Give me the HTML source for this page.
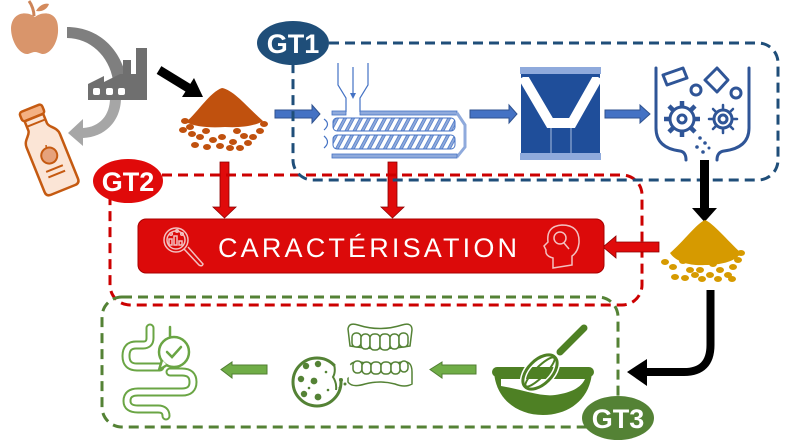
<!DOCTYPE html>
<html><head><meta charset="utf-8"><style>
html,body{margin:0;padding:0;background:#fff;}
svg{display:block;}
</style></head><body>
<svg width="787" height="444" viewBox="0 0 787 444" xmlns="http://www.w3.org/2000/svg">
<defs>
<pattern id="scr" x="0" y="0" width="8" height="20" patternUnits="userSpaceOnUse" patternTransform="skewX(-28)">
<rect x="0" y="0" width="8" height="20" fill="#8faadc"/>
<rect x="1.5" y="-1" width="5" height="22" fill="#fff" stroke="#4472c4" stroke-width="0.8"/>
</pattern>
</defs>
<rect width="787" height="444" fill="#fff"/>

<!-- Apple -->
<path d="M35,17 C28,11 12,11 11,28 C11,42 20,55 28,54 C31,53 33,52 35,52 C37,52 39,53 42,54 C50,55 59,42 58,28 C58,11 42,11 35,17 Z" fill="#d9956b"/>
<path d="M34,16 C34,11 32,5 29,1" stroke="#cd8458" stroke-width="3" fill="none"/>
<path d="M36,11 C40,4 46,3 49,4 C47,10 41,12 36,11 Z" fill="#d48a5c"/>

<!-- Gray arrows -->
<path d="M67,27 C95,27 120,45 127,80 L113,80 C109,56 90,38 67,38 Z" fill="#7f7f7f"/>
<path d="M121,98 C121,120 106,137 83,138 L83,128 C100,127 110,115 110,98 Z" fill="#a6a6a6"/>
<polygon points="83,119 68,133 83,146" fill="#a6a6a6"/>

<!-- Factory -->
<path d="M88,100 L88,84 L104,76 L104,82 L120,74 L123,74 L123,60 L131,60 L131,74 L136,74 L136,48 L147,48 L147,100 Z" fill="#6f6f6f"/>
<rect x="93" y="88" width="7" height="7" rx="2" fill="#fff"/>
<rect x="106" y="88" width="7" height="7" rx="2" fill="#fff"/>
<rect x="118" y="88" width="7" height="7" rx="2" fill="#fff"/>

<!-- Bottle -->
<g transform="translate(47,150) rotate(-22)">
<rect x="-12" y="-45" width="24" height="10" rx="3" fill="#f4b183" stroke="#c55a11" stroke-width="2.5"/>
<path d="M-10,-35 L-10,-25 C-10,-20 -18,-18 -18,-10 L-18,38 Q-18,43 -13,43 L13,43 Q18,43 18,38 L18,-10 C18,-18 10,-20 10,-25 L10,-35 Z" fill="#fbe5d6" stroke="#c55a11" stroke-width="2.5"/>
<line x1="-10" y1="-29" x2="10" y2="-29" stroke="#c55a11" stroke-width="2"/>
<circle cx="0" cy="6" r="8" fill="#e6a27c" stroke="#c55a11" stroke-width="2"/>
<path d="M0,-2 L1,-5" stroke="#c55a11" stroke-width="1.5"/>
<line x1="-9" y1="20" x2="9" y2="20" stroke="#c55a11" stroke-width="2"/>
<line x1="-9" y1="26" x2="9" y2="26" stroke="#c55a11" stroke-width="2"/>
</g>

<!-- Black arrow 1 -->
<line x1="159" y1="70" x2="190" y2="89" stroke="#000" stroke-width="9"/>
<polygon points="203,97 182,97 194,78" fill="#000"/>

<!-- Brown pile -->
<path d="M186,122 C198,112 210,92 222,88 C234,90 248,108 263,121 C255,126 240,128 225,127 C210,128 195,127 186,122 Z" fill="#c0510e"/>
<g fill="#c0510e">
<ellipse cx="185" cy="121" rx="4" ry="3"/><ellipse cx="183" cy="130" rx="4" ry="3"/><ellipse cx="192" cy="134" rx="4" ry="3"/>
<ellipse cx="200" cy="137" rx="4" ry="3"/><ellipse cx="195" cy="145" rx="4" ry="3"/><ellipse cx="207" cy="147" rx="4" ry="3"/>
<ellipse cx="213" cy="140" rx="4" ry="3"/><ellipse cx="222" cy="137" rx="4" ry="3"/><ellipse cx="220" cy="146" rx="4" ry="3"/>
<ellipse cx="233" cy="142" rx="4" ry="3"/><ellipse cx="230" cy="148" rx="4" ry="3"/><ellipse cx="248" cy="143" rx="4" ry="3"/>
<ellipse cx="253" cy="137" rx="4" ry="3"/><ellipse cx="260" cy="131" rx="4" ry="3"/><ellipse cx="264" cy="124" rx="4" ry="3"/>
<ellipse cx="240" cy="148" rx="4" ry="3"/><ellipse cx="244" cy="136" rx="4" ry="3"/><ellipse cx="206" cy="131" rx="4" ry="3"/>
<ellipse cx="190" cy="127" rx="4" ry="3"/><ellipse cx="237" cy="131" rx="4" ry="3"/>
</g>

<!-- Blue arrows -->
<g fill="#4472c4" stroke="#2f528f" stroke-width="1">
<polygon points="275,110 312,110 312,105 320,114 312,123 312,118 275,118"/>
<polygon points="470,110 509,110 509,105 517,114 509,123 509,118 470,118"/>
<polygon points="605,110 640,110 640,105 650,114 640,123 640,118 605,118"/>
</g>

<!-- Extruder -->
<g stroke="#4472c4" fill="none" stroke-width="1.2">
<path d="M338,63 V85 L346,98 V112"/>
<path d="M368,63 V85 L360,98 V112"/>
<line x1="353" y1="67" x2="353" y2="95"/>
</g>
<polygon points="350,93 356,93 353,99" fill="#4472c4"/>
<rect x="332" y="111" width="14" height="4" fill="#8faadc" stroke="#4472c4" stroke-width="0.8"/>
<rect x="360" y="111" width="97" height="4" fill="#8faadc" stroke="#4472c4" stroke-width="0.8"/>
<path d="M457,113 L465,125 L465,147 L457,157" stroke="#8faadc" stroke-width="3" fill="none"/>
<rect x="332" y="154" width="125" height="4" fill="#8faadc" stroke="#4472c4" stroke-width="0.8"/>
<rect x="333" y="118" width="122" height="13" rx="4" fill="url(#scr)" stroke="#4472c4" stroke-width="1"/>
<rect x="333" y="135" width="122" height="14" rx="4" fill="url(#scr)" stroke="#4472c4" stroke-width="1"/>
<path d="M324,119 Q331,124 324,130 M324,136 Q331,142 324,148" stroke="#4472c4" stroke-width="1.2" fill="none"/>

<!-- Mold -->
<rect x="520" y="67" width="81" height="7" fill="#8faadc"/>
<rect x="520" y="153" width="81" height="7" fill="#8faadc"/>
<rect x="521" y="74" width="79" height="79" fill="#1f4e9a"/>
<polyline points="523,77 550,123 572,123 598,77" fill="none" stroke="#fff" stroke-width="10"/>
<rect x="521" y="74" width="79" height="3" fill="#1f4e9a"/>
<line x1="551" y1="128" x2="551" y2="153" stroke="#a9bde0" stroke-width="1"/>
<line x1="571" y1="128" x2="571" y2="153" stroke="#a9bde0" stroke-width="1"/>

<!-- Mixer -->
<g stroke="#2f5597" stroke-width="3" fill="none" stroke-linecap="round">
<path d="M656,68 V128 Q656,148 680,151 Q686,152 686,160"/>
<path d="M749,68 V128 Q749,148 724,151 Q717,152 717,160"/>
<polygon points="663,75 683,68 687,78 667,85" stroke-linejoin="round"/>
<polygon points="705,80 717,68 728,80 717,92" stroke-linejoin="round"/>
<circle cx="696" cy="90" r="5"/>
<circle cx="736" cy="93" r="5"/>
<circle cx="682" cy="119" r="12"/>
<circle cx="682" cy="119" r="4"/>
<circle cx="723" cy="119" r="9"/>
<circle cx="723" cy="119" r="4"/>
</g>
<g stroke="#2f5597" stroke-width="4.5">
<line x1="682" y1="101" x2="682" y2="107"/><line x1="682" y1="131" x2="682" y2="137"/>
<line x1="664" y1="119" x2="670" y2="119"/><line x1="694" y1="119" x2="700" y2="119"/>
<line x1="669" y1="106" x2="673" y2="110"/><line x1="691" y1="128" x2="695" y2="132"/>
<line x1="695" y1="106" x2="691" y2="110"/><line x1="669" y1="132" x2="673" y2="128"/>
</g>
<g stroke="#2f5597" stroke-width="2.5" stroke-linecap="round">
<line x1="723" y1="105" x2="723" y2="109"/><line x1="723" y1="129" x2="723" y2="133"/>
<line x1="709" y1="119" x2="713" y2="119"/><line x1="733" y1="119" x2="737" y2="119"/>
<line x1="713" y1="109" x2="716" y2="112"/><line x1="730" y1="126" x2="733" y2="129"/>
<line x1="733" y1="109" x2="730" y2="112"/><line x1="713" y1="129" x2="716" y2="126"/>
</g>
<g fill="#2f5597">
<circle cx="700" cy="138" r="1.8"/><circle cx="705" cy="143" r="1.8"/><circle cx="697" cy="147" r="1.8"/>
<circle cx="703" cy="152" r="1.8"/><circle cx="709" cy="148" r="1.5"/>
</g>

<!-- Red down arrows -->
<g fill="#e00b0b" stroke="#8b0000" stroke-width="0.8">
<polygon points="220,162 229,162 229,207 236,207 224.5,218 213,207 220,207"/>
<polygon points="388,162 397,162 397,207 404,207 392.5,218 381,207 388,207"/>
</g>

<!-- Dashed boxes -->
<rect x="110" y="175" width="532" height="130" rx="20" fill="none" stroke="#cc0000" stroke-width="3" stroke-dasharray="10,6"/>
<rect x="293" y="43" width="485" height="137" rx="20" fill="none" stroke="#1f4e79" stroke-width="3" stroke-dasharray="10,6"/>
<rect x="102" y="297" width="516" height="130" rx="20" fill="none" stroke="#548235" stroke-width="3" stroke-dasharray="10,6"/>

<!-- Black down arrow -->
<rect x="700" y="160" width="9" height="50" fill="#000"/>
<polygon points="692,208 717,208 704.5,222" fill="#000"/>

<!-- Gold pile -->
<path d="M670,253 C683,242 697,223 705,220 C713,223 727,240 741,253 C735,262 720,265 705,265 C690,266 676,262 670,253 Z" fill="#d69a00"/>
<g fill="#d69a00">
<ellipse cx="665" cy="262" rx="4" ry="3"/><ellipse cx="673" cy="267" rx="4" ry="3"/><ellipse cx="675" cy="277" rx="4" ry="3"/>
<ellipse cx="685" cy="278" rx="4" ry="3"/><ellipse cx="690" cy="270" rx="4" ry="3"/><ellipse cx="700" cy="270" rx="4" ry="3"/>
<ellipse cx="695" cy="275" rx="4" ry="3"/><ellipse cx="710" cy="275" rx="4" ry="3"/><ellipse cx="720" cy="270" rx="4" ry="3"/>
<ellipse cx="728" cy="275" rx="4" ry="3"/><ellipse cx="733" cy="267" rx="4" ry="3"/><ellipse cx="738" cy="260" rx="4" ry="3"/>
<ellipse cx="741" cy="253" rx="4" ry="3"/><ellipse cx="732" cy="279" rx="4" ry="3"/><ellipse cx="702" cy="279" rx="4" ry="3"/>
<ellipse cx="713" cy="264" rx="4" ry="3"/><ellipse cx="683" cy="261" rx="4" ry="3"/><ellipse cx="718" cy="279" rx="4" ry="3"/>
</g>

<!-- Red left arrow -->
<polygon points="659,242 616,242 616,236 603,247 616,258 616,252 659,252" fill="#e00b0b" stroke="#8b0000" stroke-width="0.8"/>

<!-- Caracterisation box -->
<rect x="138" y="219" width="466" height="54" rx="8" fill="#dc0a0a" stroke="#a80000" stroke-width="1"/>
<text x="218" y="257" font-family="Liberation Sans, sans-serif" font-size="27" fill="#fff" textLength="299" lengthAdjust="spacing">CARACTÉRISATION</text>
<!-- magnifier icon -->
<g stroke="#f3c0c0" stroke-width="1.5" fill="none">
<circle cx="176" cy="240" r="12"/>
<circle cx="176" cy="240" r="9"/>
<path d="M184,249 L199,265 Q202,267 203,264 L188,247"/>
<rect x="169" y="239" width="3" height="6"/><rect x="174" y="236" width="3" height="9"/><rect x="179" y="241" width="3" height="4"/>
<circle cx="171" cy="234" r="1.3"/><circle cx="177" cy="231" r="1.3"/><circle cx="182" cy="234" r="1.3"/>
</g>
<!-- head icon -->
<g stroke="#f3c0c0" stroke-width="1.5" fill="none">
<path d="M553,268 L553,258 Q545,256 546,250 L544,246 L548,242 Q546,226 562,225 Q580,225 579,243 Q578,252 572,256 L572,265 Z"/>
<circle cx="560" cy="238" r="6"/>
<line x1="564" y1="243" x2="569" y2="249"/>
</g>

<!-- Black curved arrow -->
<path d="M710.5,290 L710.5,345 Q710.5,372 684,372 L645,372" fill="none" stroke="#000" stroke-width="8"/>
<polygon points="647,359 627,372 647,386" fill="#000"/>

<!-- Green arrows -->
<g fill="#70ad47" stroke="#507e32" stroke-width="1">
<polygon points="476,365 442,365 442,362 430,369.5 442,378 442,374 476,374"/>
<polygon points="267,365 232,365 232,362 221,369.5 232,378 232,374 267,374"/>
</g>

<!-- Whisk bowl -->
<path d="M494,372 L592,372 C590,400 568,415 543,415 C518,415 496,400 494,372 Z" fill="#4e8024"/>
<rect x="492" y="367" width="102" height="10" rx="5" fill="#4e8024"/>
<path d="M501,379 L585,379 C581,388 570,393 555,395 C540,397 520,389 501,386 Z" fill="#fff"/>
<line x1="584" y1="328" x2="560" y2="352" stroke="#4e8024" stroke-width="7" stroke-linecap="round"/>
<g transform="translate(540,372) rotate(45)">
<ellipse cx="0" cy="0" rx="12" ry="21" fill="none" stroke="#fff" stroke-width="6"/>
<ellipse cx="0" cy="0" rx="12" ry="21" fill="none" stroke="#4e8024" stroke-width="3"/>
<ellipse cx="0" cy="0" rx="5" ry="20" fill="none" stroke="#4e8024" stroke-width="2"/>
</g>

<!-- Teeth -->
<g stroke="#548235" stroke-width="1.5" fill="#fff">
<path d="M348,329 Q349,322 358,325 Q380,332 402,325 Q412,322 412,330 L410,346 Q380,351 350,346 Z"/>
<rect x="352" y="333" width="9" height="14" rx="4"/><rect x="361" y="334" width="9" height="15" rx="4"/>
<rect x="370" y="334" width="10" height="16" rx="4"/><rect x="380" y="334" width="10" height="16" rx="4"/>
<rect x="390" y="334" width="9" height="15" rx="4"/><rect x="399" y="333" width="9" height="14" rx="4"/>
<path d="M348,372 Q349,360 360,362 Q380,366 402,362 Q412,360 412,372 L412,384 Q405,388 395,384 Q380,380 365,384 Q352,388 348,382 Z"/>
<rect x="353" y="361" width="9" height="12" rx="4"/><rect x="362" y="362" width="9" height="12" rx="4"/>
<rect x="371" y="362" width="10" height="12" rx="4"/><rect x="381" y="362" width="10" height="12" rx="4"/>
<rect x="391" y="362" width="9" height="12" rx="4"/><rect x="400" y="361" width="8" height="11" rx="4"/>
</g>

<!-- Cookie -->
<circle cx="317" cy="382" r="24" fill="#fff" stroke="#548235" stroke-width="3"/>
<circle cx="343" cy="370" r="9" fill="#fff"/>
<path d="M334,364 Q336,372 333,377 Q337,383 336,390" fill="none" stroke="#548235" stroke-width="2"/>
<g fill="#548235">
<circle cx="306" cy="366" r="3.2"/><circle cx="318" cy="364" r="3.2"/><circle cx="301" cy="379" r="3.2"/>
<circle cx="314" cy="381" r="3.4"/><circle cx="304" cy="394" r="3.2"/><circle cx="318" cy="397" r="3.4"/>
<circle cx="326" cy="372" r="1.3"/><circle cx="309" cy="388" r="1.3"/><circle cx="328" cy="390" r="1.3"/>
<circle cx="341" cy="380" r="2"/><circle cx="340" cy="388" r="1.5"/><circle cx="345" cy="384" r="1.5"/>
</g>

<!-- Intestine -->
<g fill="none" stroke-linecap="round" stroke-linejoin="round">
<path d="M150,328 V338 Q150,345 143,345 H136 Q126,345 126,356 Q126,367 137,367 H160 M170,372 H182 Q193,372 193,382 Q193,392 182,392 H138 Q127,392 127,401 Q127,409 138,409 H158 Q166,409 166,416" stroke="#6aa544" stroke-width="9"/>
<path d="M150,328 V338 Q150,345 143,345 H136 Q126,345 126,356 Q126,367 137,367 H160 M170,372 H182 Q193,372 193,382 Q193,392 182,392 H138 Q127,392 127,401 Q127,409 138,409 H158 Q166,409 166,416" stroke="#fff" stroke-width="5"/>
<path d="M170,327 V336" stroke="#6aa544" stroke-width="2.5"/>
</g>
<circle cx="174" cy="352" r="15" fill="#fff" stroke="#6aa544" stroke-width="2.5"/>
<path d="M162,360 L159,370 L167,365" fill="#fff" stroke="#6aa544" stroke-width="2.5" stroke-linejoin="round"/>
<path d="M167,352 L172,357 L181,347" fill="none" stroke="#6aa544" stroke-width="2.5" stroke-linecap="round"/>

<!-- GT ellipses -->
<ellipse cx="293" cy="43" rx="36" ry="22" fill="#1f4e79"/>
<text x="293" y="53" text-anchor="middle" font-family="Liberation Sans, sans-serif" font-weight="bold" font-size="27" fill="#fff">GT1</text>
<ellipse cx="128" cy="181" rx="35" ry="22" fill="#e00a0a"/>
<text x="128" y="191" text-anchor="middle" font-family="Liberation Sans, sans-serif" font-weight="bold" font-size="27" fill="#fff">GT2</text>
<ellipse cx="618" cy="418" rx="36" ry="22" fill="#548235"/>
<text x="618" y="428" text-anchor="middle" font-family="Liberation Sans, sans-serif" font-weight="bold" font-size="27" fill="#fff">GT3</text>
</svg>
</body></html>
